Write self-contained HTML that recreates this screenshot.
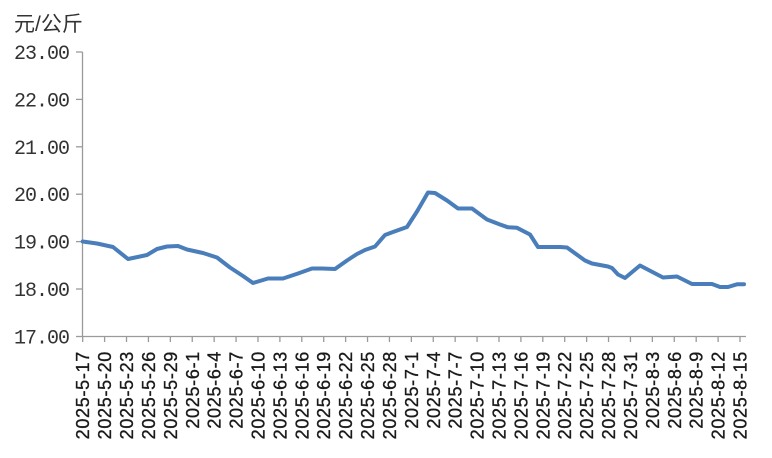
<!DOCTYPE html>
<html>
<head>
<meta charset="utf-8">
<style>
  html,body{margin:0;padding:0;background:#fff;}
  svg{display:block;}
</style>
</head>
<body>
<svg width="772" height="458" viewBox="0 0 772 458" xmlns="http://www.w3.org/2000/svg">
  <rect width="772" height="458" fill="#fff"/>
  <text x="14" y="31" font-family="'Liberation Sans','Noto Sans CJK SC',sans-serif" font-size="21" fill="#333">元/公斤</text>

  <!-- axes -->
  <g stroke="#9a9a9a" stroke-width="1.3" fill="none">
    <line x1="82.5" y1="52" x2="82.5" y2="337"/>
    <line x1="82" y1="336.5" x2="746" y2="336.5"/>
    <line x1="76" y1="52" x2="82.5" y2="52"/>
    <line x1="76" y1="99.4" x2="82.5" y2="99.4"/>
    <line x1="76" y1="146.8" x2="82.5" y2="146.8"/>
    <line x1="76" y1="194.2" x2="82.5" y2="194.2"/>
    <line x1="76" y1="241.6" x2="82.5" y2="241.6"/>
    <line x1="76" y1="289" x2="82.5" y2="289"/>
    <line x1="76" y1="336.5" x2="82.5" y2="336.5"/>
  </g>

  <g font-family="'Liberation Mono',monospace" font-size="20" fill="#333" text-anchor="end" letter-spacing="-1">
    <text x="69" y="59">23.00</text>
    <text x="69" y="106.4">22.00</text>
    <text x="69" y="153.8">21.00</text>
    <text x="69" y="201.2">20.00</text>
    <text x="69" y="248.6">19.00</text>
    <text x="69" y="296">18.00</text>
    <text x="69" y="343.5">17.00</text>
  </g>

  <!-- x ticks -->
  <g stroke="#9a9a9a" stroke-width="1.3">
    <line x1="82.7" y1="336.5" x2="82.7" y2="342"/>
    <line x1="104.61" y1="336.5" x2="104.61" y2="342"/>
    <line x1="126.52" y1="336.5" x2="126.52" y2="342"/>
    <line x1="148.43" y1="336.5" x2="148.43" y2="342"/>
    <line x1="170.34" y1="336.5" x2="170.34" y2="342"/>
    <line x1="192.25" y1="336.5" x2="192.25" y2="342"/>
    <line x1="214.16" y1="336.5" x2="214.16" y2="342"/>
    <line x1="236.07" y1="336.5" x2="236.07" y2="342"/>
    <line x1="257.98" y1="336.5" x2="257.98" y2="342"/>
    <line x1="279.89" y1="336.5" x2="279.89" y2="342"/>
    <line x1="301.8" y1="336.5" x2="301.8" y2="342"/>
    <line x1="323.71" y1="336.5" x2="323.71" y2="342"/>
    <line x1="345.62" y1="336.5" x2="345.62" y2="342"/>
    <line x1="367.53" y1="336.5" x2="367.53" y2="342"/>
    <line x1="389.44" y1="336.5" x2="389.44" y2="342"/>
    <line x1="411.35" y1="336.5" x2="411.35" y2="342"/>
    <line x1="433.26" y1="336.5" x2="433.26" y2="342"/>
    <line x1="455.17" y1="336.5" x2="455.17" y2="342"/>
    <line x1="477.08" y1="336.5" x2="477.08" y2="342"/>
    <line x1="498.99" y1="336.5" x2="498.99" y2="342"/>
    <line x1="520.9" y1="336.5" x2="520.9" y2="342"/>
    <line x1="542.81" y1="336.5" x2="542.81" y2="342"/>
    <line x1="564.72" y1="336.5" x2="564.72" y2="342"/>
    <line x1="586.63" y1="336.5" x2="586.63" y2="342"/>
    <line x1="608.54" y1="336.5" x2="608.54" y2="342"/>
    <line x1="630.45" y1="336.5" x2="630.45" y2="342"/>
    <line x1="652.36" y1="336.5" x2="652.36" y2="342"/>
    <line x1="674.27" y1="336.5" x2="674.27" y2="342"/>
    <line x1="696.18" y1="336.5" x2="696.18" y2="342"/>
    <line x1="718.09" y1="336.5" x2="718.09" y2="342"/>
    <line x1="740" y1="336.5" x2="740" y2="342"/>
  </g>

  <g font-family="'Liberation Sans',sans-serif" font-size="18" fill="#1a1a1a" stroke="#1a1a1a" stroke-width="0.35" text-anchor="end" letter-spacing="0.7">
    <text transform="translate(89.2,351) rotate(-90)">2025-5-17</text>
    <text transform="translate(111.11,351) rotate(-90)">2025-5-20</text>
    <text transform="translate(133.02,351) rotate(-90)">2025-5-23</text>
    <text transform="translate(154.93,351) rotate(-90)">2025-5-26</text>
    <text transform="translate(176.84,351) rotate(-90)">2025-5-29</text>
    <text transform="translate(198.75,351) rotate(-90)">2025-6-1</text>
    <text transform="translate(220.66,351) rotate(-90)">2025-6-4</text>
    <text transform="translate(242.57,351) rotate(-90)">2025-6-7</text>
    <text transform="translate(264.48,351) rotate(-90)">2025-6-10</text>
    <text transform="translate(286.39,351) rotate(-90)">2025-6-13</text>
    <text transform="translate(308.3,351) rotate(-90)">2025-6-16</text>
    <text transform="translate(330.21,351) rotate(-90)">2025-6-19</text>
    <text transform="translate(352.12,351) rotate(-90)">2025-6-22</text>
    <text transform="translate(374.03,351) rotate(-90)">2025-6-25</text>
    <text transform="translate(395.94,351) rotate(-90)">2025-6-28</text>
    <text transform="translate(417.85,351) rotate(-90)">2025-7-1</text>
    <text transform="translate(439.76,351) rotate(-90)">2025-7-4</text>
    <text transform="translate(461.67,351) rotate(-90)">2025-7-7</text>
    <text transform="translate(483.58,351) rotate(-90)">2025-7-10</text>
    <text transform="translate(505.49,351) rotate(-90)">2025-7-13</text>
    <text transform="translate(527.4,351) rotate(-90)">2025-7-16</text>
    <text transform="translate(549.31,351) rotate(-90)">2025-7-19</text>
    <text transform="translate(571.22,351) rotate(-90)">2025-7-22</text>
    <text transform="translate(593.13,351) rotate(-90)">2025-7-25</text>
    <text transform="translate(615.04,351) rotate(-90)">2025-7-28</text>
    <text transform="translate(636.95,351) rotate(-90)">2025-7-31</text>
    <text transform="translate(658.86,351) rotate(-90)">2025-8-3</text>
    <text transform="translate(680.77,351) rotate(-90)">2025-8-6</text>
    <text transform="translate(702.68,351) rotate(-90)">2025-8-9</text>
    <text transform="translate(724.59,351) rotate(-90)">2025-8-12</text>
    <text transform="translate(746.5,351) rotate(-90)">2025-8-15</text>
  </g>

  <!-- series -->
  <polyline fill="none" stroke="#4a7ebb" stroke-width="4" stroke-linejoin="round" stroke-linecap="round"
    points="82.7,241.5 97,243.5 113,247 128,259 147,255 157,249 167,246.5 178,246 187,249.5 203,253 217,257.5 230,267.5 243,276 253,283 268,278.5 283,278.5 298,273.5 312,268.5 322,268.5 335,269 347,260.5 357,254 365,250 375,246.5 385,235 393,232 407,227 417,211.5 428,192.5 435,193 447,200.5 458,208.5 472,208.5 487,219.5 500,224.5 508,227.3 517,227.8 530,234.5 538,247 560,247 567,247.5 585,260.5 592,263.5 608,266.5 612,268 618,274.5 625,278 640,265.5 663,277.5 677,276.5 692,284 712,284 720,287 728,287 737,284.3 744,284.3"/>
</svg>
</body>
</html>
